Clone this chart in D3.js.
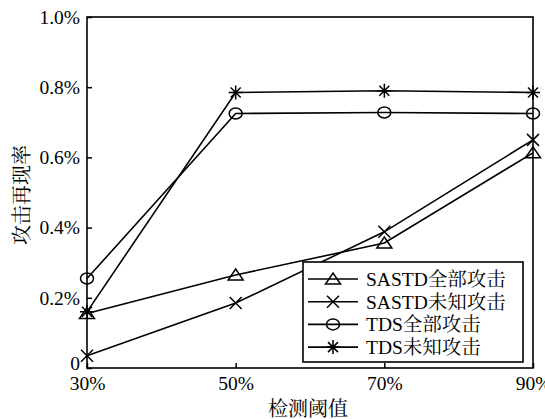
<!DOCTYPE html>
<html><head><meta charset="utf-8">
<script src="https://cdn.jsdelivr.net/npm/d3@7"></script>
<style>body{margin:0;background:#fff}svg{display:block}text{font-family:"Liberation Serif","Noto Serif CJK SC","Noto Sans CJK SC",serif;fill:#000}</style>
</head><body><svg id="c" width="545" height="419"></svg>
<script>
const thresholds = [30, 50, 70, 90];
const xTicks = ["30%", "50%", "70%", "90%"];
const yTicks = [0, 0.2, 0.4, 0.6, 0.8, 1.0];
const seriesNames = ["SASTD全部攻击", "SASTD未知攻击", "TDS全部攻击", "TDS未知攻击"];
const sastdAll = [0.155, 0.265, 0.356, 0.613];
const sastdUnknown = [0.035, 0.185, 0.388, 0.65];
const tdsAll = [0.255, 0.725, 0.728, 0.725];
const tdsUnknown = [0.16, 0.785, 0.79, 0.785];
const markers = ["triangle", "cross", "circle", "star"];
const xTitle = "检测阈值";
const yTitle = "攻击再现率";

const series = [sastdAll, sastdUnknown, tdsAll, tdsUnknown];
const svg = d3.select("#c");
const L = 87, R = 533, T = 17, B = 368;
const x = d3.scaleLinear().domain([30, 90]).range([L, R]);
const y = d3.scaleLinear().domain([0, 1.0]).range([B, T]);
const FS = 19.5;

// frame
svg.append("rect").attr("x", L).attr("y", T).attr("width", R - L).attr("height", B - T)
  .attr("fill", "none").attr("stroke", "#000").attr("stroke-width", 1.6);

// y axis
const yAx = svg.append("g").attr("transform", `translate(${L},0)`)
  .call(d3.axisLeft(y).tickValues(yTicks).tickSizeInner(-5).tickSizeOuter(0).tickPadding(7)
    .tickFormat(d => d === 0 ? "0" : d.toFixed(1) + "%"));
yAx.attr("font-family", null).attr("font-size", null);
yAx.select(".domain").remove();
yAx.selectAll("line").attr("stroke", "#000").attr("stroke-width", 1.5);
yAx.selectAll("text").attr("font-size", FS).attr("font-family", null);
yAx.selectAll(".tick").filter(d => d === 0).select("text").attr("dy", "0.1em");

// x axis
const xAx = svg.append("g").attr("transform", `translate(0,${B})`)
  .call(d3.axisBottom(x).tickValues(thresholds).tickSizeInner(-5).tickSizeOuter(0).tickPadding(8)
    .tickFormat((d, i) => xTicks[i]));
xAx.attr("font-family", null).attr("font-size", null);
xAx.select(".domain").remove();
xAx.selectAll("line").attr("stroke", "#000").attr("stroke-width", 1.5);
xAx.selectAll("text").attr("font-size", FS).attr("font-family", null);

// titles
svg.append("text").attr("x", 308).attr("y", 416).attr("text-anchor", "middle")
  .attr("font-size", 20).text(xTitle);
svg.append("text").attr("transform", `translate(29,195) rotate(-90)`).attr("text-anchor", "middle")
  .attr("font-size", 20).text(yTitle);

function drawMarker(g, type, cx, cy) {
  const s = "#000", w = 1.5;
  if (type === "triangle") {
    g.append("path").attr("d", `M${cx},${cy - 6}L${cx + 7.5},${cy + 5}L${cx - 7.5},${cy + 5}Z`)
      .attr("fill", "none").attr("stroke", s).attr("stroke-width", w);
  } else if (type === "cross") {
    const r = 6;
    g.append("path").attr("d", `M${cx - r},${cy - r}L${cx + r},${cy + r}M${cx - r},${cy + r}L${cx + r},${cy - r}`)
      .attr("stroke", s).attr("stroke-width", w);
  } else if (type === "circle") {
    g.append("ellipse").attr("cx", cx).attr("cy", cy).attr("rx", 6.5).attr("ry", 5.5)
      .attr("fill", "none").attr("stroke", s).attr("stroke-width", w);
  } else {
    const r = 7, d = 5;
    g.append("path").attr("d", `M${cx},${cy - r}L${cx},${cy + r}M${cx - r},${cy}L${cx + r},${cy}M${cx - d},${cy - d}L${cx + d},${cy + d}M${cx - d},${cy + d}L${cx + d},${cy - d}`)
      .attr("stroke", s).attr("stroke-width", w);
  }
}

const line = d3.line().x((d, i) => x(thresholds[i])).y(d => y(d));
series.forEach((vals, k) => {
  const g = svg.append("g");
  g.append("path").attr("d", line(vals)).attr("fill", "none").attr("stroke", "#000").attr("stroke-width", 1.6);
  vals.forEach((v, i) => drawMarker(g, markers[k], x(thresholds[i]), y(v)));
});

// legend
const lg = svg.append("g");
lg.append("rect").attr("x", 303).attr("y", 262).attr("width", 220).attr("height", 100)
  .attr("fill", "#fff").attr("stroke", "#000").attr("stroke-width", 1.6);
seriesNames.forEach((name, k) => {
  const cy = 279 + k * 22.7;
  lg.append("line").attr("x1", 308).attr("x2", 358).attr("y1", cy).attr("y2", cy)
    .attr("stroke", "#000").attr("stroke-width", 1.6);
  drawMarker(lg, markers[k], 333, cy);
  lg.append("text").attr("x", 366).attr("y", cy).attr("dy", "0.35em").attr("font-size", FS).text(name);
});
</script></body></html>
